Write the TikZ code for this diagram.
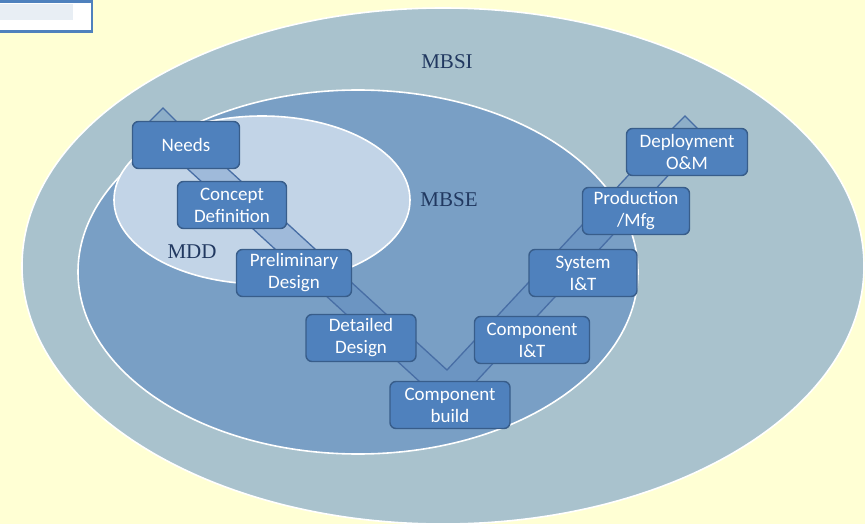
\documentclass[tikz,border=0pt]{standalone}
\usepackage{fontspec}
\setmainfont{Liberation Serif}
\newfontfamily\boxfont{Carlito}
\definecolor{bgyellow}{RGB}{255,255,212}
\definecolor{mbsifill}{RGB}{169,194,205}
\definecolor{mbsefill}{RGB}{121,159,197}
\definecolor{mddfill}{RGB}{194,212,231}
\definecolor{boxfill}{RGB}{79,129,189}
\definecolor{boxline}{RGB}{56,93,138}
\definecolor{bandline}{RGB}{72,110,165}
\definecolor{labelcol}{RGB}{33,56,96}
\definecolor{tagblue}{RGB}{79,129,189}
\definecolor{taggray}{RGB}{232,238,244}
\begin{document}
\begin{tikzpicture}[x=1pt,y=-1pt,
  stepbox/.style={draw=boxline, line width=1.4pt, fill=boxfill, rounded corners=6pt,
    text=white, font=\boxfont\fontsize{19}{22}\selectfont, align=center,
    minimum height=47pt, inner sep=2pt},
  setlabel/.style={text=labelcol, font=\fontsize{21}{24}\selectfont},
  ring/.style={draw=white, line width=1.6pt}]
\useasboundingbox (0,0) rectangle (865,524);
\fill[bgyellow] (0,0) rectangle (865,524);
% tag box at top left
\draw[draw=tagblue, line width=2.2pt, fill=white] (-6,1.5) rectangle (92,31.5);
\fill[taggray] (0,4) rectangle (73,20);
% ellipses
\draw[ring, fill=mbsifill] (443,266) ellipse [x radius=421pt, y radius=258pt];
\draw[ring, fill=mbsefill] (358,272) ellipse [x radius=280pt, y radius=182pt];
\draw[ring, fill=mddfill] (262,200) ellipse [x radius=148pt, y radius=84pt];
% V band
\draw[draw=bandline, line width=1.3pt, fill=boxfill, fill opacity=0.3, line join=miter]
  (143,128) -- (163,108) -- (183,128) -- (447,370) -- (665,136) -- (685,116)
  -- (705,136) -- (450,409.5) -- cycle;
% set labels
\node[setlabel] (mbsi) at (447,62) {MBSI};
\node[setlabel] (mbse) at (449,200) {MBSE};
\node[setlabel] (mdd) at (192,252) {MDD};
% steps
\node[stepbox, minimum width=107pt] (needs) at (186,145) {Needs};
\node[stepbox, minimum width=109pt] (concept) at (232,205) {Concept\\Definition};
\node[stepbox, minimum width=115pt] (prelim) at (294,273) {Preliminary\\Design};
\node[stepbox, minimum width=110pt] (detail) at (361,338) {Detailed\\Design};
\node[stepbox, minimum width=120pt] (build) at (450,405) {Component\\build};
\node[stepbox, minimum width=115pt] (compit) at (532,340) {Component\\I\&T};
\node[stepbox, minimum width=108pt] (sysit) at (583,273) {System\\I\&T};
\node[stepbox, minimum width=107pt] (prod) at (636,211) {Production\\/Mfg};
\node[stepbox, minimum width=121pt] (deploy) at (687,152) {Deployment\\O\&M};
\end{tikzpicture}
\end{document}
